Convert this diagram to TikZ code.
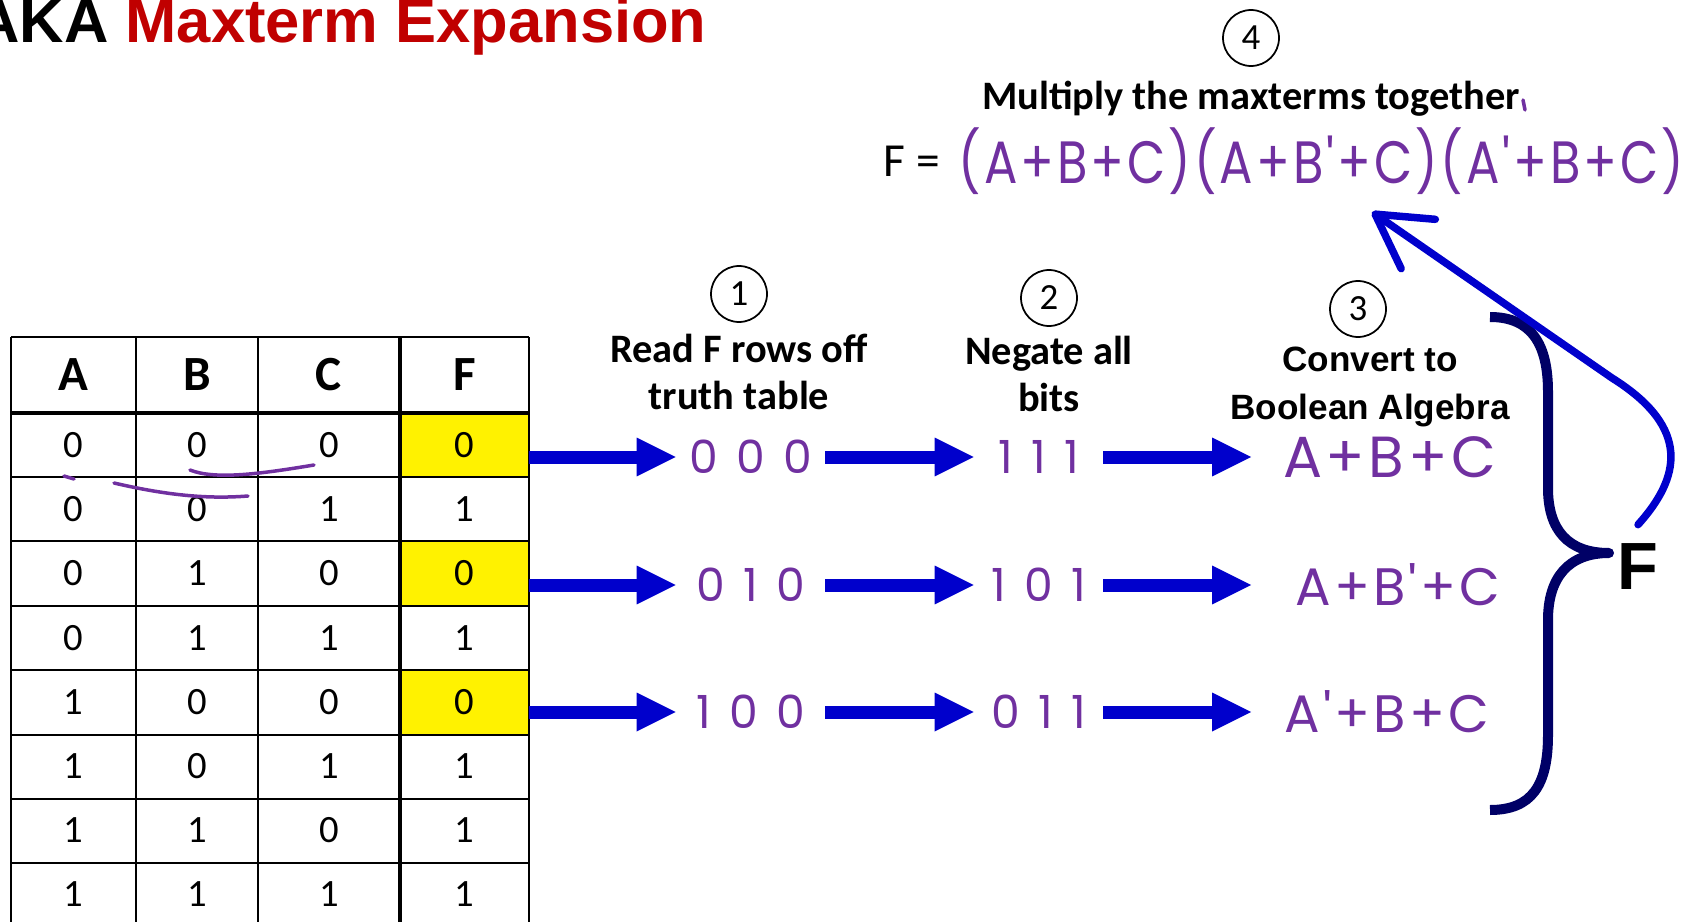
\documentclass[tikz,border=0pt]{standalone}
\usepackage{fontspec}
\setmainfont{Carlito}
\newfontfamily\arialfont{Liberation Sans}
\newfontfamily\handfont[LetterSpace=40]{Poppins}
\newfontfamily\termfont[LetterSpace=6]{Poppins}
\usepackage{tikz}
\usetikzlibrary{arrows.meta, positioning}
\definecolor{titlered}{RGB}{192, 0, 0}
\definecolor{arrowblue}{RGB}{0, 0, 204}
\definecolor{bracenavy}{RGB}{0, 0, 102}
\definecolor{penpurple}{RGB}{112, 48, 160}
\tikzset{
    titlenode/.style = {draw=none, inner sep=0em, font=\arialfont\bfseries\fontsize{35}{40}\selectfont},
    headnode/.style = {draw=none, inner sep=0em, font=\bfseries\fontsize{28}{30}\selectfont},
    cellnode/.style = {draw=none, rectangle, inner sep=0em, minimum height=1.28cm, font=\fontsize{22}{24}\selectfont},
    circlenode/.style = {circle, draw, line width=0.035cm, inner sep=0em, minimum size=1.12cm, font=\fontsize{21}{21}\selectfont},
    textnode/.style = {draw=none, fill=none, rectangle, inner sep=0em, align=center, font=\bfseries\fontsize{23}{26.5}\selectfont},
    boolnode/.style = {textnode, font=\arialfont\bfseries\fontsize{20}{27}\selectfont},
    bitsnode/.style = {draw=none, inner sep=0em, text=penpurple, font=\handfont\fontsize{26}{26}\selectfont},
    termnode/.style = {draw=none, inner sep=0em, text=penpurple, font=\termfont\fontsize{33}{33}\selectfont},
    bignode/.style = {draw=none, inner sep=0em, font=\arialfont\bfseries\fontsize{38}{40}\selectfont},
    thinrule/.style = {black, line width=0.034cm},
    thickrule/.style = {black, line width=0.08cm},
    scribble/.style = {penpurple, line width=0.07cm, line cap=round},
    flow/.style = {arrowblue, line width=0.26cm, -{Triangle[length=0.78cm, width=0.78cm, line width=0pt]}},
    backarrow/.style = {arrowblue, line width=0.15cm, line cap=round, -{Straight Barb[length=1.05cm, width=1.2cm, round]}},
    bracepath/.style = {bracenavy, line width=0.2cm, line join=round}
}

\begin{document}
\begin{tikzpicture}[x=0.02cm, y=-0.02cm]
\useasboundingbox (0,0) rectangle (1687,922);

\node [titlenode, name=title, anchor=base east] at (707,43) {AKA \textcolor{titlered}{Maxterm Expansion}};

% truth table
\node [headnode, name=ha] at (73,375) {A};
\node [headnode, name=hb] at (197,375) {B};
\node [headnode, name=hc] at (329,375) {C};
\node [headnode, name=hf] at (464.5,375) {F};
\foreach \a/\b/\c/\f/\shade [count=\i] in {0/0/0/0/yellow, 0/0/1/1/white, 0/1/0/0/yellow, 0/1/1/1/white,
    1/0/0/0/yellow, 1/0/1/1/white, 1/1/0/1/white, 1/1/1/1/white}{
  \pgfmathsetmacro{\yc}{380.8+64.2*\i}
  \node [cellnode, name=ta\i] at (73,\yc) {\a};
  \node [cellnode, name=tb\i] at (197,\yc) {\b};
  \node [cellnode, name=tc\i] at (329,\yc) {\c};
  \node [cellnode, name=tf\i, minimum width=2.58cm, fill=\shade] at (464.5,\yc) {\f};
}
\foreach \y in {337,477,541,606,670,735,799,863}
  \draw [thinrule] (11,\y) -- (529,\y);
\draw [thickrule] (11,413) -- (529,413);
\foreach \x in {11,136,258,529}
  \draw [thinrule] (\x,337) -- (\x,922);
\draw [thickrule] (400,337) -- (400,922);
% pen marks on the first row
\draw [scribble] (190,470) .. controls (215,480) and (260,474) .. (314,465);
\draw [scribble] (64,476) -- (74,479);
\draw [scribble] (114,483) .. controls (170,496) and (210,499) .. (248,496);

% the four steps
\node [circlenode, name=s1] at (739,294) {1};
\node [textnode, name=l1, below=0.22cm of s1] {Read F rows off\\truth table};
\node [circlenode, name=s2] at (1049,298) {2};
\node [textnode, name=l2, below=0.18cm of s2] {Negate all\\bits};
\node [circlenode, name=s3] at (1358,309) {3};
\node [boolnode, name=l3, below=0.18cm of s3, xshift=0.24cm] {Convert to\\Boolean Algebra};
\node [circlenode, name=s4] at (1251,38) {4};
\node [textnode, name=l4, below=0.28cm of s4] {Multiply the maxterms together};
\draw [scribble] (1523,100) -- (1525,110);

\node [textnode, name=fe, font=\fontsize{27}{27}\selectfont] at (912,161) {F =};
\node [termnode, name=prod, right=0.36cm of fe, font=\termfont\fontsize{34}{34}\selectfont]
  {\scalebox{0.83}[1]{(A+B+C)(A+B'+C)(A'+B+C)}};

% row 000
\node [bitsnode, name=rd1, minimum width=2.98cm] at (750.5,457) {000};
\node [bitsnode, name=ng1, minimum width=2.58cm] at (1038.5,457) {111};
\node [termnode, name=mx1, anchor=west, inner xsep=0.64cm] at (1251,457) {A+B+C};
\draw [flow] (tf1.east |- rd1.west) -- (rd1.west);
\draw [flow] (rd1.east) -- (ng1.west);
\draw [flow] (ng1.east) -- (mx1.west);

% row 010
\node [bitsnode, name=rd2, minimum width=2.98cm] at (750.5,585) {010};
\node [bitsnode, name=ng2, minimum width=2.58cm] at (1038.5,585) {101};
\node [termnode, name=mx2, anchor=west, inner xsep=0.88cm, font=\termfont\fontsize{30}{30}\selectfont] at (1251,585) {A+B'+C};
\draw [flow] (tf3.east |- rd2.west) -- (rd2.west);
\draw [flow] (rd2.east) -- (ng2.west);
\draw [flow] (ng2.east) -- (mx2.west);

% row 100
\node [bitsnode, name=rd3, minimum width=2.98cm] at (750.5,712) {100};
\node [bitsnode, name=ng3, minimum width=2.58cm] at (1038.5,712) {011};
\node [termnode, name=mx3, anchor=west, inner xsep=0.66cm, font=\termfont\fontsize{30}{30}\selectfont] at (1251,712) {A'+B+C};
\draw [flow] (tf5.east |- rd3.west) -- (rd3.west);
\draw [flow] (rd3.east) -- (ng3.west);
\draw [flow] (ng3.east) -- (mx3.west);

% brace and product arrow
\draw [bracepath] (1490,317) .. controls (1532,317) and (1548,345) .. (1548,392) -- (1548,488)
  .. controls (1548,530) and (1568,553) .. (1609,553) .. controls (1568,553) and (1548,578) .. (1548,620)
  -- (1548,735) .. controls (1548,785) and (1532,810) .. (1490,810);
\node [bignode, name=fout] at (1638,567) {F};
\coordinate (ftip) at (1372,212);
\draw [backarrow] ([yshift=0.38cm]fout.north) .. controls (1680,478) and (1692,428) .. (1612,378) -- (ftip);
\end{tikzpicture}
\end{document}
